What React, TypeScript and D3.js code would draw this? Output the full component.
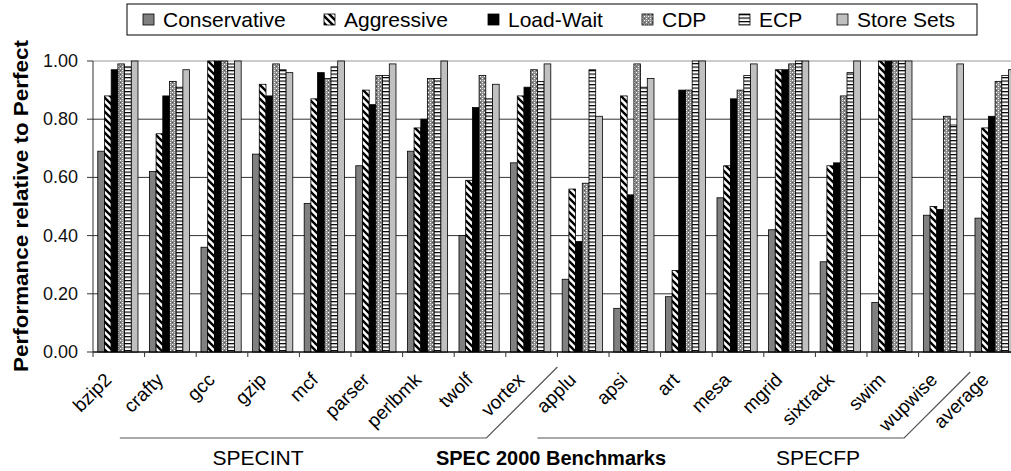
import React from "react";
import * as d3 from "d3";

const categories = ["bzip2","crafty","gcc","gzip","mcf","parser","perlbmk","twolf","vortex","applu","apsi","art","mesa","mgrid","sixtrack","swim","wupwise","average"];
const seriesNames = ["Conservative","Aggressive","Load-Wait","CDP","ECP","Store Sets"];
const conservative = [0.69,0.62,0.36,0.68,0.51,0.64,0.69,0.40,0.65,0.25,0.15,0.19,0.53,0.42,0.31,0.17,0.47,0.46];
const aggressive = [0.88,0.75,1.00,0.92,0.87,0.90,0.77,0.59,0.88,0.56,0.88,0.28,0.64,0.97,0.64,1.00,0.50,0.77];
const loadWait = [0.97,0.88,1.00,0.88,0.96,0.85,0.80,0.84,0.91,0.38,0.54,0.90,0.87,0.97,0.65,1.00,0.49,0.81];
const cdp = [0.99,0.93,1.00,0.99,0.94,0.95,0.94,0.95,0.97,0.58,0.99,0.90,0.90,0.99,0.88,1.00,0.81,0.93];
const ecp = [0.98,0.91,0.99,0.97,0.98,0.95,0.94,0.87,0.93,0.97,0.91,1.00,0.95,1.00,0.96,1.00,0.78,0.95];
const storeSets = [1.00,0.97,1.00,0.96,1.00,0.99,1.00,0.92,0.99,0.81,0.94,1.00,0.99,1.00,1.00,1.00,0.99,0.97];
const yTicks = [0, 0.2, 0.4, 0.6, 0.8, 1.0];
const yTitle = "Performance relative to Perfect";
const groupLabels = ["SPECINT", "SPECFP"];
const xTitle = "SPEC 2000 Benchmarks";

const seriesValues = [conservative, aggressive, loadWait, cdp, ecp, storeSets];
const fills = ["#808080", "url(#pAgg)", "#000000", "url(#pCdp)", "url(#pEcp)", "#c0c0c0"];

const W = 1011, H = 471;
const x0 = 93, step = 51.6;
const FONT = "'Liberation Sans', Arial, sans-serif";

export default function App() {
  const x = d3.scaleBand<string>().domain(categories).range([x0, x0 + step * categories.length]).paddingInner(0).paddingOuter(0);
  const xi = d3.scaleBand<string>().domain(seriesNames).range([0, x.bandwidth()]).paddingInner(0).paddingOuter(0.85).align(0.42);
  const y = d3.scaleLinear().domain([0, 1]).range([352, 61]);
  const fmt = d3.format(".2f");
  const tickX = (i: number) => x0 + step * i;

  const legendX = [143, 324, 488, 642, 739, 837];

  return (
    <svg width={W} height={H} style={{ position: "absolute", left: 0, top: 0, background: "#fff" }} fontFamily={FONT}>
      <defs>
        <pattern id="pAgg" patternUnits="userSpaceOnUse" width="7" height="7">
          <rect width="7" height="7" fill="#fff" />
          <path d="M-1,-1 L8,8 M-1,6 L1,8 M6,-1 L8,1" stroke="#000" strokeWidth="2.4" />
        </pattern>
        <pattern id="pCdp" patternUnits="userSpaceOnUse" width="4" height="4">
          <rect width="4" height="4" fill="#8a8a8a" />
          <rect x="0" y="0" width="1" height="1" fill="#fff" />
          <rect x="2" y="2" width="1" height="1" fill="#fff" />
          <rect x="2" y="0" width="1" height="1" fill="#c8c8c8" />
          <rect x="0" y="2" width="1" height="1" fill="#555" />
        </pattern>
        <pattern id="pEcp" patternUnits="userSpaceOnUse" width="4" height="3.5">
          <rect width="4" height="3.5" fill="#fff" />
          <rect y="0" width="4" height="1.2" fill="#000" />
        </pattern>
      </defs>

      {/* gridlines */}
      {yTicks.map((t) => (
        <line key={"g" + t} x1={x0} x2={W} y1={y(t)} y2={y(t)} stroke={t === 1 ? "#999" : "#333"} strokeWidth={1} />
      ))}

      {/* bars */}
      {seriesValues.map((vals, si) => (
        <g key={"s" + si}>
          {categories.map((c, ci) => {
            const bx = (x(c) as number) + (xi(seriesNames[si]) as number);
            const v = vals[ci];
            return (
              <rect key={c} x={bx} y={y(v)} width={xi.bandwidth()} height={y(0) - y(v)}
                fill={fills[si]} stroke="#000" strokeWidth={0.8} />
            );
          })}
        </g>
      ))}

      {/* axes */}
      <line x1={x0} x2={x0} y1={y(1)} y2={y(0)} stroke="#333" />
      <line x1={x0} x2={W} y1={y(0)} y2={y(0)} stroke="#000" />
      {yTicks.map((t) => (
        <g key={"yt" + t}>
          <line x1={x0 - 6} x2={x0} y1={y(t)} y2={y(t)} stroke="#333" />
          <text x={78} y={y(t) + 6} textAnchor="end" fontSize={18} fill="#111">{fmt(t)}</text>
        </g>
      ))}
      {categories.map((c, i) => (
        <line key={"xt" + c} x1={tickX(i)} x2={tickX(i)} y1={y(0)} y2={y(0) + 5} stroke="#333" />
      ))}
      {categories.map((c) => {
        const cx = (x(c) as number) + x.bandwidth() / 2 - 6;
        const cy = 381;
        return (
          <text key={"xl" + c} x={cx} y={cy} transform={`rotate(-45 ${cx} ${cy})`} textAnchor="end" fontSize={19} fill="#000">{c}</text>
        );
      })}

      {/* group brackets */}
      <path d={`M${tickX(0) + x.bandwidth() * 0.52},438 L${tickX(9) - 71},438 L${tickX(9)},367`} fill="none" stroke="#555" strokeWidth={1.2} />
      <path d={`M${tickX(9) - 20},438 L${tickX(17) - 66},438 L${tickX(17)},372`} fill="none" stroke="#555" strokeWidth={1.2} />
      <text x={258} y={465} textAnchor="middle" fontSize={21}>{groupLabels[0]}</text>
      <text x={818} y={465} textAnchor="middle" fontSize={21}>{groupLabels[1]}</text>
      <text x={551} y={465} textAnchor="middle" fontSize={20} fontWeight="bold">{xTitle}</text>

      {/* y title */}
      <text transform={`translate(28,206) rotate(-90)`} textAnchor="middle" fontSize={21} fontWeight="bold"
        textLength={332} lengthAdjust="spacingAndGlyphs">{yTitle}</text>

      {/* legend */}
      <rect x={127} y={4} width={850} height={31} fill="#fff" stroke="#000" strokeWidth={1} />
      {seriesNames.map((s, i) => (
        <g key={"lg" + s}>
          <rect x={legendX[i]} y={14} width={11} height={11} fill={fills[i]} stroke="#000" strokeWidth={0.8} />
          <text x={legendX[i] + 20} y={27} fontSize={21}>{s}</text>
        </g>
      ))}
    </svg>
  );
}
